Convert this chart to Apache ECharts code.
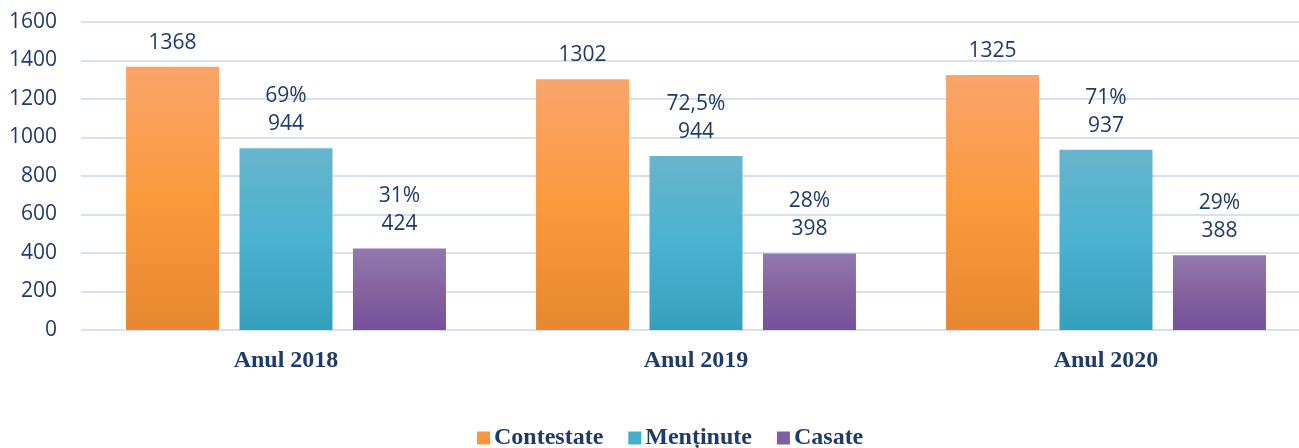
<!DOCTYPE html>
<html lang="ro">
<head>
    <meta charset="UTF-8">
    <title>Contestate / Menținute / Casate</title>
    <script src="https://cdn.jsdelivr.net/npm/echarts@6/dist/echarts.min.js"></script>
    <style>
        html, body { margin: 0; padding: 0; background: #fff; overflow: hidden; }
        /* puțin mai lat decât fereastra: grila iese din cadru în dreapta, ca în original */
        #chart { width: 1311px; height: 448px; }
    </style>
</head>
<body>
    <div id="chart"></div>
    <script>
        // date
        const years = ['Anul 2018', 'Anul 2019', 'Anul 2020'];
        const seriesNames = ['Contestate', 'Menținute', 'Casate'];
        const contestate = [1368, 1302, 1325];
        const mentinute = [944, 904, 937];
        const casate = [424, 398, 388];
        // etichete afișate deasupra barelor
        const labelsContestate = ['1368', '1302', '1325'];
        const labelsMentinute = ['69%\n944', '72,5%\n944', '71%\n937'];
        const labelsCasate = ['31%\n424', '28%\n398', '29%\n388'];
        const yTicks = { min: 0, max: 1600, interval: 200 };

        const textColor = '#1f3b6b';

        function grad(top, mid, bottom) {
            return new echarts.graphic.LinearGradient(0, 0, 0, 1, [
                { offset: 0, color: top },
                { offset: 0.5, color: mid },
                { offset: 1, color: bottom }
            ]);
        }

        const colors = [
            grad('#f9a56b', '#fb993d', '#e7872f'),
            grad('#68b5cc', '#4bb2d1', '#35a0bc'),
            grad('#917aae', '#86629f', '#74519a')
        ];
        const legendColors = ['#f99640', '#45aecb', '#7f5ea3'];

        function makeSeries(i, values, labels) {
            return {
                name: seriesNames[i],
                type: 'bar',
                barWidth: 93,
                barGap: '22%',
                data: values,
                itemStyle: { color: colors[i] },
                label: {
                    show: true,
                    position: 'top',
                    distance: 10,
                    color: textColor,
                    fontFamily: 'Open Sans',
                    fontSize: 21,
                    lineHeight: 28,
                    formatter: p => labels[p.dataIndex]
                }
            };
        }

        const chart = echarts.init(document.getElementById('chart'));
        chart.setOption({
            animation: false,
            grid: { left: 81, right: 0, top: 22, bottom: 118, containLabel: false },
            legend: {
                top: 426,
                left: 477,
                padding: 0,
                itemWidth: 13,
                itemHeight: 13,
                itemGap: 25,
                icon: 'rect',
                textStyle: {
                    fontFamily: 'Liberation Serif',
                    fontWeight: 'bold',
                    fontSize: 24,
                    color: textColor,
                    padding: [0, 0, 0, -1]
                },
                data: seriesNames.map((n, i) => ({ name: n, itemStyle: { color: legendColors[i] } }))
            },
            xAxis: {
                type: 'category',
                data: years,
                axisLine: { show: false },
                axisTick: { show: false },
                axisLabel: {
                    margin: 19,
                    fontFamily: 'Liberation Serif',
                    fontWeight: 'bold',
                    fontSize: 24,
                    color: textColor
                }
            },
            yAxis: {
                type: 'value',
                min: yTicks.min,
                max: yTicks.max,
                interval: yTicks.interval,
                axisLine: { show: false },
                axisTick: { show: false },
                axisLabel: {
                    margin: 24,
                    fontFamily: 'Open Sans',
                    fontSize: 21,
                    color: textColor,
                    formatter: v => String(v)
                },
                splitLine: { lineStyle: { color: '#d5e1f2', width: 2 } }
            },
            series: [
                makeSeries(0, contestate, labelsContestate),
                makeSeries(1, mentinute, labelsMentinute),
                makeSeries(2, casate, labelsCasate)
            ]
        });
    </script>
</body>
</html>
